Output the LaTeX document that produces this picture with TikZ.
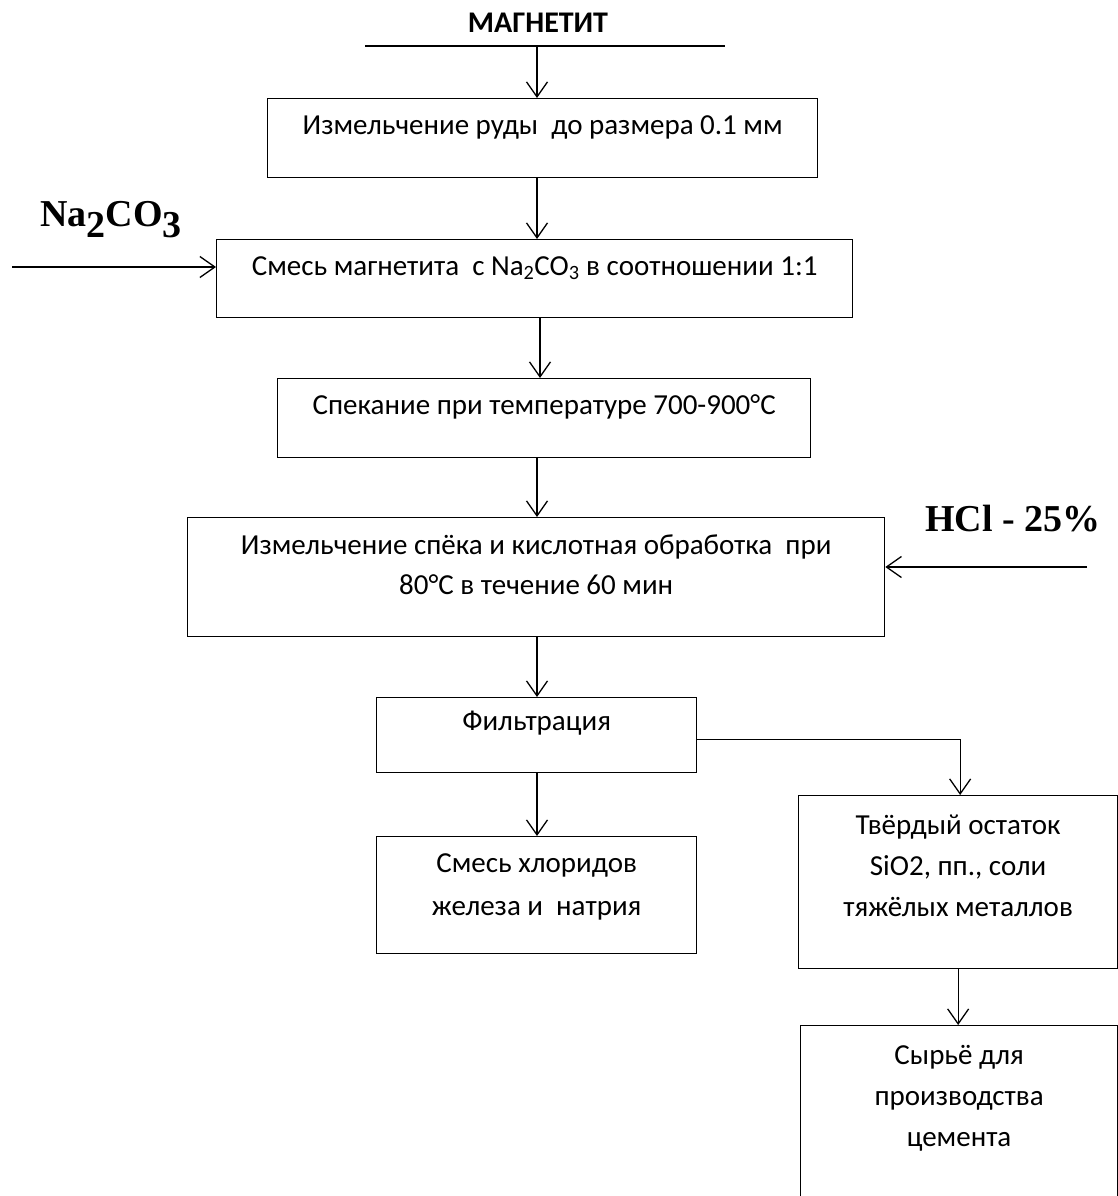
\documentclass[tikz,border=0pt]{standalone}
\usepackage{fontspec}
\setmainfont{Carlito}
\newfontfamily\lbfont{Liberation Serif}
\usetikzlibrary{arrows.meta}
\tikzset{
  box/.style={draw, line width=1.3pt, rectangle, inner sep=0pt},
  txt/.style={font=\fontsize{29}{40}\selectfont, align=center, anchor=north, inner sep=0pt},
  arr/.style={line width=1.3pt, -{Straight Barb[length=15pt,width=21pt,line width=1.3pt]}},
  feed/.style={font=\lbfont\bfseries\fontsize{38}{40}\selectfont, inner sep=0pt, anchor=base west},
}
\begin{document}
\begin{tikzpicture}[x=1pt,y=1pt]
\clip (0,0) rectangle (1118,-1196);
\fill[white] (0,0) rectangle (1118,-1196);

% title
\node[font=\bfseries\fontsize{30}{32}\selectfont, inner sep=0pt, anchor=base] (mag) at (538,-33) {МАГНЕТИТ};
\coordinate (la) at (365,-46);
\coordinate (lb) at (725,-46);
\coordinate (m) at (537,-46);
\draw[line width=1.3pt] (la) -- (lb);

% boxes
\node[box, anchor=north west, minimum width=550, minimum height=79] (b1) at (267,-98) {};
\node[box, anchor=north west, minimum width=636, minimum height=78] (b2) at (216,-239) {};
\node[box, anchor=north west, minimum width=533, minimum height=79] (b3) at (277,-378) {};
\node[box, anchor=north west, minimum width=697, minimum height=119] (b4) at (187,-517) {};
\node[box, anchor=north west, minimum width=320, minimum height=75] (b5) at (376,-697) {};
\node[box, anchor=north west, minimum width=320, minimum height=117] (b6) at (376,-836) {};
\node[box, anchor=north west, minimum width=319, minimum height=173] (b7) at (798,-795) {};
\node[box, anchor=north west, minimum width=317, minimum height=180] (b8) at (800,-1025) {};

% texts
\node[txt] (t1) at ([yshift=-8]b1.north) {\strut Измельчение руды~ до размера 0.1 мм};
\node[txt] (t2) at ([yshift=-8]b2.north) {\strut Смесь магнетита~ с Na\textsubscript{2}CO\textsubscript{3} в соотношении 1:1};
\node[txt] (t3) at ([yshift=-8]b3.north) {\strut Спекание при температуре 700-900°C};
\node[txt] (t4) at ([yshift=-9]b4.north) {\strut Измельчение спёка и кислотная обработка~ при\\80°C в течение 60 мин};
\node[txt] (t5) at ([yshift=-5]b5.north) {\strut Фильтрация};
\node[txt, font=\fontsize{29}{43}\selectfont] (t6) at ([yshift=-6]b6.north) {\strut Смесь хлоридов\\железа и~ натрия};
\node[txt, font=\fontsize{29}{41}\selectfont] (t7) at ([yshift=-11]b7.north) {\strut Твёрдый остаток\\SiO2, пп., соли\\тяжёлых металлов};
\node[txt, font=\fontsize{29}{41}\selectfont] (t8) at ([yshift=-11]b8.north) {\strut Сырьё для\\производства\\цемента};

% feeds
\node[feed] (na) at (40,-226) {Na\raisebox{-11pt}{2}CO\raisebox{-11pt}{3}};
\node[feed] (hcl) at (925,-531) {HCl - 25\%};
\coordinate (nas) at (12,-267);
\coordinate (hcs) at (1087,-567);

% connectors
\draw[arr] (m) -- (m |- b1.north);
\draw[arr] (b1.south -| m) -- (b2.north -| m);
\draw[arr] ([xshift=3]b2.south -| m) -- ([xshift=3]b3.north -| m);
\draw[arr] (b3.south -| m) -- (b4.north -| m);
\draw[arr] (b4.south -| m) -- (b5.north -| m);
\draw[arr] (b5.south -| m) -- (b6.north -| m);
\draw[arr] (nas) -- (nas -| b2.west);
\draw[arr] (hcs) -- (hcs -| b4.east);
\draw[arr] ([yshift=-4]b5.east) -| ([xshift=2]b7.north);
\draw[arr] (b7.south) -- (b7.south |- b8.north);
\end{tikzpicture}
\end{document}
